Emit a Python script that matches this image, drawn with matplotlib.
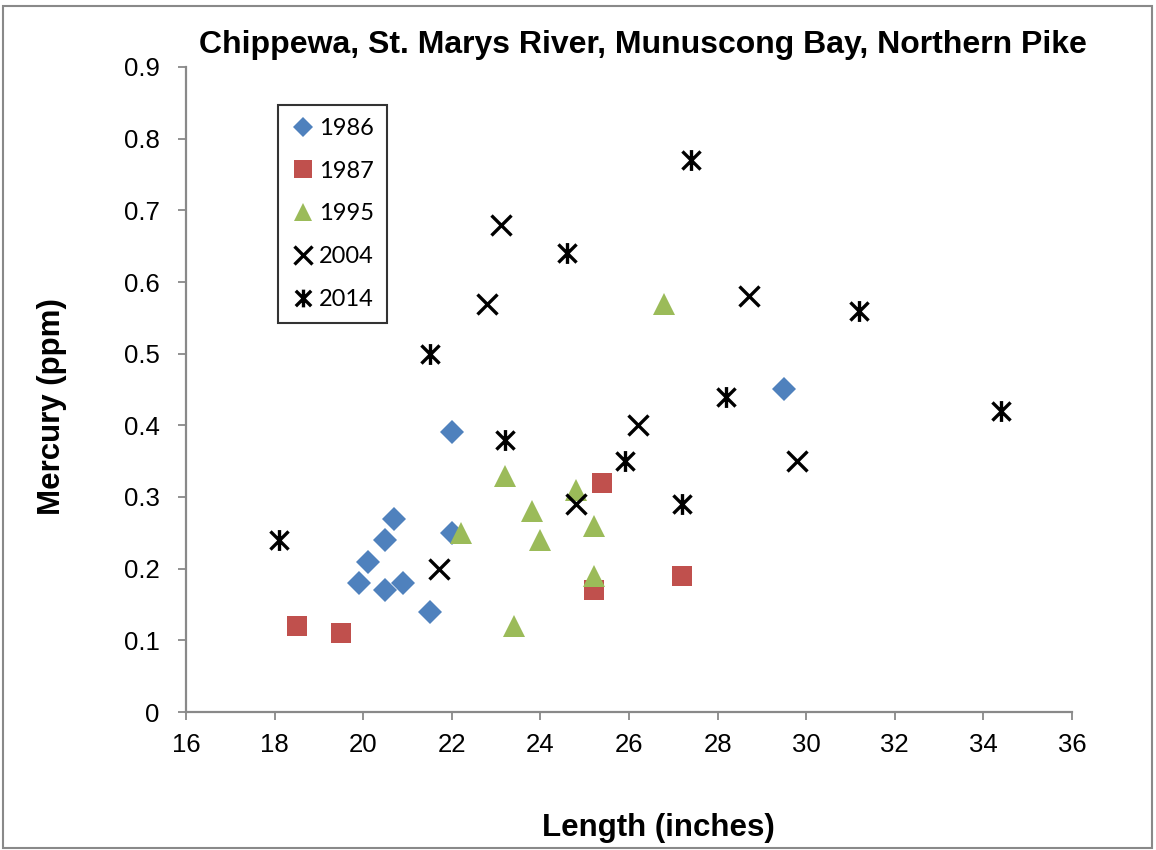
import matplotlib
matplotlib.use("Agg")
import matplotlib.pyplot as plt
from matplotlib.path import Path
from matplotlib.patches import Rectangle

# ---- data ----
x1986 = [22.0, 22.0, 20.7, 20.5, 20.1, 19.9, 20.5, 20.9, 21.5, 29.5]
y1986 = [0.39, 0.25, 0.27, 0.24, 0.21, 0.18, 0.17, 0.18, 0.14, 0.45]

x1987 = [18.5, 19.5, 25.4, 25.2, 27.2]
y1987 = [0.12, 0.11, 0.32, 0.17, 0.19]

x1995 = [23.2, 22.2, 23.8, 24.0, 24.8, 25.2, 25.2, 23.4, 26.8]
y1995 = [0.33, 0.25, 0.28, 0.24, 0.31, 0.26, 0.19, 0.12, 0.57]

x2004 = [21.7, 24.8, 26.2, 23.1, 22.8, 28.7, 29.8]
y2004 = [0.20, 0.29, 0.40, 0.68, 0.57, 0.58, 0.35]

x2014 = [18.1, 21.5, 23.2, 24.6, 27.4, 25.9, 27.2, 28.2, 31.2, 34.4]
y2014 = [0.24, 0.50, 0.38, 0.64, 0.77, 0.35, 0.29, 0.44, 0.56, 0.42]

series_labels = ["1986", "1987", "1995", "2004", "2014"]
x_ticks = [16, 18, 20, 22, 24, 26, 28, 30, 32, 34, 36]
y_ticks = [0, 0.1, 0.2, 0.3, 0.4, 0.5, 0.6, 0.7, 0.8, 0.9]
y_tick_labels = ["0", "0.1", "0.2", "0.3", "0.4", "0.5", "0.6", "0.7", "0.8", "0.9"]

title = "Chippewa, St. Marys River, Munuscong Bay, Northern Pike"
xlabel = "Length (inches)"
ylabel = "Mercury (ppm)"

# ---- style ----
plt.rcParams['font.family'] = ['Liberation Sans', 'DejaVu Sans']
W, H = 1156, 850
fig = plt.figure(figsize=(W / 100, H / 100), dpi=100)
ax = fig.add_axes([186 / W, 1 - 712 / H, (1072 - 186) / W, (712 - 67) / H])

gray = "#898989"
blue, red, green = "#4F81BD", "#C0504D", "#9BBB59"

star_path = Path([(-1, -1), (1, 1), (-1, 1), (1, -1), (0, -1.15), (0, 1.15)],
                 [Path.MOVETO, Path.LINETO, Path.MOVETO, Path.LINETO, Path.MOVETO, Path.LINETO])

ax.plot(x1986, y1986, linestyle='none', marker='D', markersize=12.5,
        color=blue, markeredgewidth=0, label=series_labels[0], clip_on=False)
ax.plot(x1987, y1987, linestyle='none', marker='s', markersize=15,
        color=red, markeredgewidth=0, label=series_labels[1], clip_on=False)
ax.plot(x1995, y1995, linestyle='none', marker='^', markersize=15.5,
        color=green, markeredgewidth=0, label=series_labels[2], clip_on=False)
ax.plot(x2004, y2004, linestyle='none', marker='x', markersize=15,
        color='black', markeredgewidth=2.4, label=series_labels[3], clip_on=False)
ax.plot(x2014, y2014, linestyle='none', marker=star_path, markersize=15,
        markerfacecolor='none', markeredgecolor='black', markeredgewidth=2.4,
        label=series_labels[4], clip_on=False)

ax.set_xlim(16, 36)
ax.set_ylim(0, 0.9)
ax.set_xticks(x_ticks)
ax.set_xticklabels([str(t) for t in x_ticks])
ax.set_yticks(y_ticks)
ax.set_yticklabels(y_tick_labels)

for s in ['top', 'right']:
    ax.spines[s].set_visible(False)
for s in ['left', 'bottom']:
    ax.spines[s].set_color(gray)
    ax.spines[s].set_linewidth(1.6)
ax.tick_params(axis='both', direction='out', length=6, width=1.3, color=gray,
               labelsize=18.5, labelcolor='black')
ax.tick_params(axis='x', pad=9)
ax.tick_params(axis='y', pad=13)

fig.text(643 / W, 1 - 45 / H, title, ha='center', va='center',
         fontsize=23, fontweight='bold')
fig.text(658 / W, 1 - 828 / H, xlabel, ha='center', va='center',
         fontsize=22.5, fontweight='bold')
fig.text(52 / W, 1 - 407 / H, ylabel, ha='center', va='center', rotation=90,
         fontsize=22.5, fontweight='bold')

leg = ax.legend(loc='upper left', bbox_to_anchor=(278 / W, 1 - 105 / H),
                bbox_transform=fig.transFigure, borderaxespad=0,
                prop={'family': 'Lato', 'size': 17},
                handlelength=1.0, handletextpad=0.2, labelspacing=0.92,
                borderpad=0.55, fancybox=False, frameon=True, markerscale=0.85)
leg.get_frame().set_edgecolor('black')
leg.get_frame().set_linewidth(1.5)

fig.patches.append(Rectangle((3 / W, 2 / H), (1152 - 3) / W, (844 - 2) / H,
                             transform=fig.transFigure, fill=False,
                             edgecolor=gray, linewidth=1.5))

fig.savefig("out.png", dpi=100)
